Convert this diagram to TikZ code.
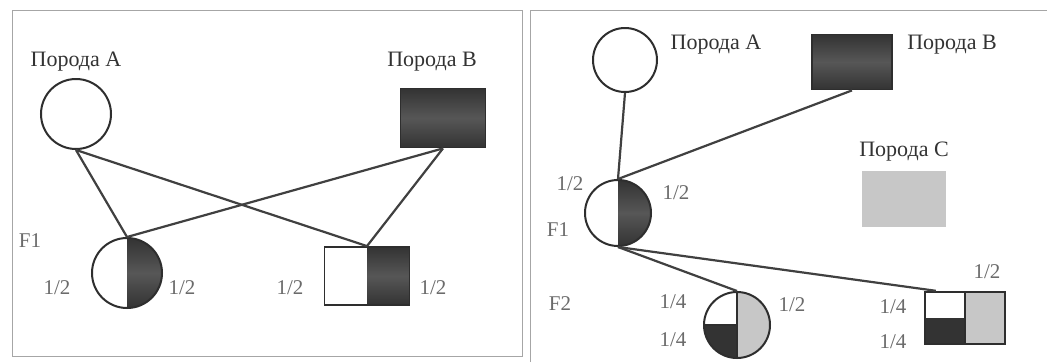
\documentclass[tikz,border=0pt]{standalone}
\usepackage{fontspec}
\setmainfont{Liberation Serif}
\usetikzlibrary{positioning}
\definecolor{BreedDark}{gray}{0.2}
\definecolor{BreedMid}{gray}{0.34}
\definecolor{BreedLight}{gray}{0.78}

\tikzset{
  breedtxt/.style={text=black!80, font=\fontsize{22}{22}\selectfont},
  fractxt/.style={text=black!58, font=\fontsize{21}{21}\selectfont},
  fem/.style={circle, draw=black!82, line width=2pt, inner sep=0pt, minimum size=#1},
  male/.style={rectangle, draw=black!82, line width=1.8pt, inner sep=0pt},
  bond/.style={draw=black!75, line width=2.2pt},
  panel/.style={draw=black!35, line width=0.8pt},
  darkfill/.style={top color=BreedDark, bottom color=BreedDark, middle color=BreedMid},
  halfdark/.style={path picture={
    \shade[darkfill] (path picture bounding box.north) rectangle (path picture bounding box.south east);}},
  alldark/.style={path picture={
    \shade[darkfill] (path picture bounding box.north west) rectangle (path picture bounding box.south east);}},
  quarters/.style={path picture={
    \fill[BreedLight] (path picture bounding box.north) rectangle (path picture bounding box.south east);
    \fill[BreedDark] (path picture bounding box.center) rectangle (path picture bounding box.south west);
    \draw[black!82, line width=1.6pt] (path picture bounding box.north) -- (path picture bounding box.south);
    \draw[black!82, line width=1.6pt] (path picture bounding box.west) -- (path picture bounding box.center);}},
}

\begin{document}
\begin{tikzpicture}[x=1pt, y=-1pt]
\useasboundingbox (0,0) rectangle (1047,362);
\fill[white] (0,0) rectangle (1047,362);
% panels
\draw[panel] (12,10) rectangle (522,356);
\draw[panel] (530,362) -- (530,10) -- (1047,10);

% left panel: parents
\node[breedtxt] (tA1) at (76,62) {Порода А};
\node[fem=70pt] (A1) at (76,114) {};
\node[breedtxt] (tB1) at (432,62) {Порода В};
\node[male, minimum width=85pt, minimum height=59pt, alldark] (B1) at (443,118) {};

% left panel: F1
\node[fractxt] (gF1a) at (30,241) {F1};
\node[fem=70pt, halfdark] (F1c) at (127,273) {};
\node[fractxt] (F1cl) at (57,288) {1/2};
\node[fractxt] (F1cr) at (182,288) {1/2};
\node[male, minimum width=85pt, minimum height=58pt, halfdark] (F1s) at (367,276) {};
\node[fractxt] (F1sl) at (290,288) {1/2};
\node[fractxt] (F1sr) at (433,288) {1/2};

\draw[bond] (A1.south) -- (F1c.north);
\draw[bond] (A1.south) -- (F1s.north);
\draw[bond] (B1.south) -- (F1c.north);
\draw[bond] (B1.south) -- (F1s.north);

% right panel: parents
\node[fem=64pt] (A2) at (625,60) {};
\node[breedtxt] (tA2) at (716,45) {Порода А};
\node[male, minimum width=80pt, minimum height=55pt, alldark] (B2) at (852,62) {};
\node[breedtxt] (tB2) at (952,45) {Порода В};
\node[breedtxt] (tC2) at (904,152) {Порода С};
\node[male, draw=BreedLight, fill=BreedLight, minimum width=82pt, minimum height=55pt] (C2) at (904,199) {};

% right panel: F1
\node[fem=66pt, halfdark] (F12) at (618,213) {};
\node[fractxt] (F12l) at (570,184) {1/2};
\node[fractxt] (F12r) at (676,193) {1/2};
\node[fractxt] (gF1b) at (558,230) {F1};

\draw[bond] (A2.south) -- (F12.north);
\draw[bond] (B2.south) -- (F12.north);

% right panel: F2
\node[fractxt] (gF2) at (560,304) {F2};
\node[fem=66pt, quarters] (F2c) at (737,325) {};
\node[fractxt] (F2ct) at (673,302) {1/4};
\node[fractxt] (F2cb) at (673,340) {1/4};
\node[fractxt] (F2cr) at (792,305) {1/2};
\node[male, minimum width=80pt, minimum height=52pt, line width=2.4pt,
  path picture={
    \fill[BreedLight] (path picture bounding box.north) rectangle (path picture bounding box.south east);
    \fill[BreedDark] (path picture bounding box.west) rectangle (path picture bounding box.south);
    \draw[black!82, line width=2pt] (path picture bounding box.north) -- (path picture bounding box.south);}]
  (F2s) at (965,318) {};
\node[fractxt] (F2st) at (987,272) {1/2};
\node[fractxt] (F2sl) at (893,307) {1/4};
\node[fractxt] (F2sb) at (893,342) {1/4};
\coordinate (F2in) at ([xshift=12pt]F2s.north west);

\draw[bond] (F12.south) -- (F2c.north);
\draw[bond] (F12.south) -- (F2in);
\end{tikzpicture}
\end{document}
